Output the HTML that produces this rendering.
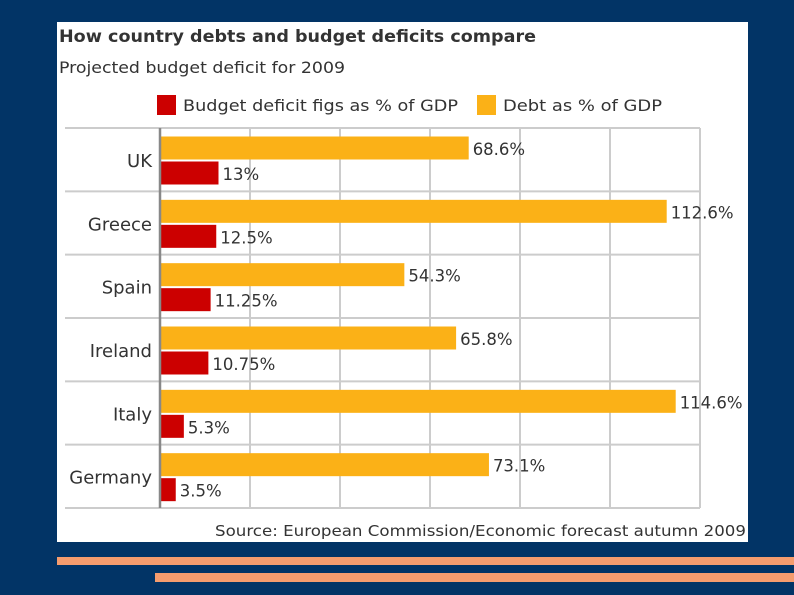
<!DOCTYPE html>
<html><head><meta charset="utf-8"><style>
html,body{margin:0;padding:0;background:#023466;}
svg{display:block;font-family:"DejaVu Sans","Liberation Sans",sans-serif;}
</style></head><body>
<svg id="chart" width="794" height="595" viewBox="0 0 794 595">
<rect x="0" y="0" width="794" height="595" fill="#023466"/>
<rect x="57" y="22" width="691" height="520" fill="#ffffff"/>
<rect x="57" y="557" width="737" height="8" fill="#f59c6e"/>
<rect x="155" y="573" width="639" height="9" fill="#f59c6e"/>
<text x="59" y="42" font-size="17" font-weight="bold" fill="#333" textLength="477" lengthAdjust="spacingAndGlyphs">How country debts and budget deficits compare</text>
<text x="59" y="73" font-size="16" fill="#333" textLength="286" lengthAdjust="spacingAndGlyphs">Projected budget deficit for 2009</text>
<g>
<rect x="157" y="95" width="19" height="20" fill="#cc0000"/>
<text x="183" y="111" font-size="16" fill="#333" textLength="275" lengthAdjust="spacingAndGlyphs">Budget deficit figs as % of GDP</text>
<rect x="477" y="95" width="19" height="20" fill="#fbb117"/>
<text x="503" y="111" font-size="16" fill="#333" textLength="159" lengthAdjust="spacingAndGlyphs">Debt as % of GDP</text>
</g>
<g id="plot"></g>
<text x="746" y="536" font-size="15.5" fill="#333" text-anchor="end" textLength="531" lengthAdjust="spacingAndGlyphs">Source:  European Commission/Economic forecast autumn 2009</text>
</svg>
<script>
const countries = ["UK","Greece","Spain","Ireland","Italy","Germany"];
const debtValues = [68.6,112.6,54.3,65.8,114.6,73.1];
const deficitValues = [13,12.5,11.25,10.75,5.3,3.5];
const debtLabels = ["68.6%","112.6%","54.3%","65.8%","114.6%","73.1%"];
const deficitLabels = ["13%","12.5%","11.25%","10.75%","5.3%","3.5%"];
const gridTicks = [20,40,60,80,100,120];

const NS="http://www.w3.org/2000/svg";
const plot=document.getElementById('plot');
const x0=160, pxPer=4.5, plotTop=128, plotBottom=508;
const rowH=(plotBottom-plotTop)/countries.length;
function xs(v){return x0+v*pxPer;}
function mk(tag,attrs){const e=document.createElementNS(NS,tag);for(const k in attrs)e.setAttribute(k,attrs[k]);plot.appendChild(e);return e;}

gridTicks.forEach((t,i)=>{
  const l=mk('line',{x1:xs(t),x2:xs(t),y1:plotTop,y2:plotBottom,stroke:'#cccccc','stroke-width':2});
  
  
});
for(let i=0;i<=countries.length;i++){
  const y=plotTop+i*rowH;
  const l=mk('line',{x1:65,x2:700,y1:y,y2:y,stroke:'#cccccc','stroke-width':2});
  
  
}
countries.forEach((c,i)=>{
  const y=plotTop+i*rowH;
  const lab=mk('text',{x:152,y:y+39,'font-size':18,fill:'#333','text-anchor':'end'});
  lab.textContent=c;
  
  
  const b1=mk('rect',{x:x0,y:y+8.5,width:xs(debtValues[i])-x0,height:23,fill:'#fbb117'});
  
  
  const t1=mk('text',{x:xs(debtValues[i])+4,y:y+27,'font-size':16.5,fill:'#333'});
  t1.textContent=debtLabels[i];
  
  
  const b2=mk('rect',{x:x0,y:y+33.5,width:xs(deficitValues[i])-x0,height:23,fill:'#cc0000'});
  
  
  const t2=mk('text',{x:xs(deficitValues[i])+4,y:y+52,'font-size':16.5,fill:'#333'});
  t2.textContent=deficitLabels[i];
  
  
});
const ax=mk('line',{x1:x0,x2:x0,y1:plotTop,y2:plotBottom,stroke:'#888888','stroke-width':2.5});


</script>
</body></html>
